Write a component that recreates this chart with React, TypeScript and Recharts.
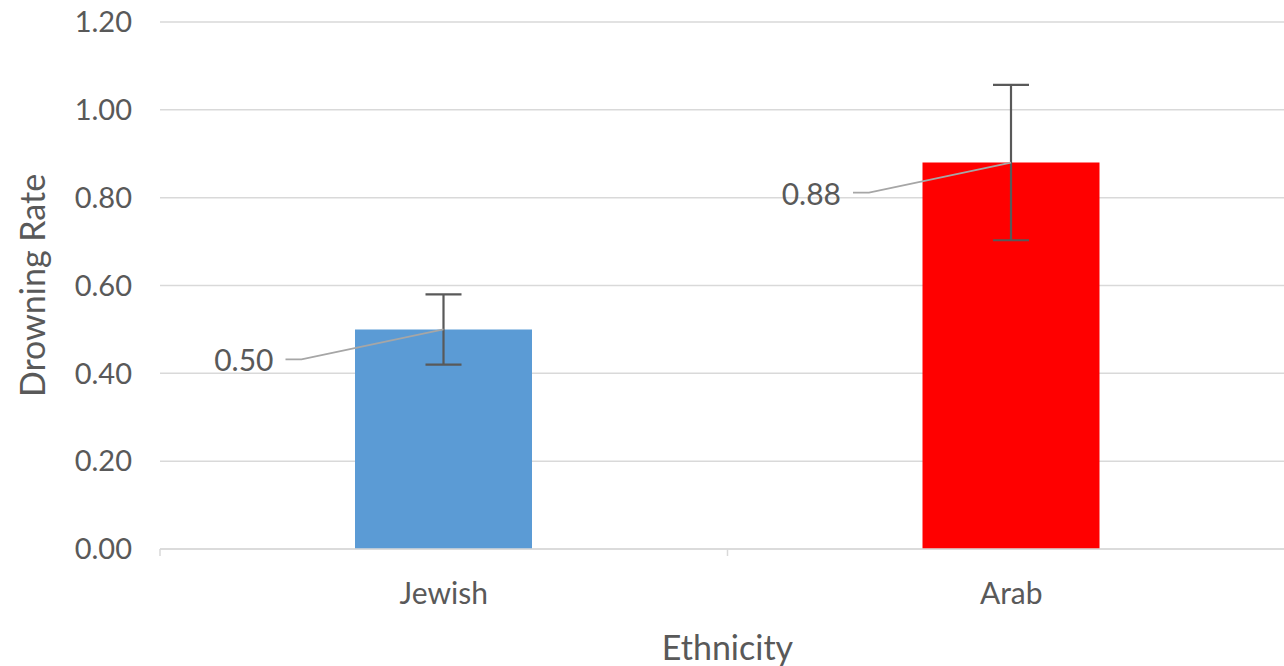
import React from 'react';
import { BarChart, Bar, XAxis, YAxis, CartesianGrid, ErrorBar, LabelList, Cell } from 'recharts';

const categories = ['Jewish', 'Arab'];
const rates = [0.5, 0.88];
const errors = [0.08, 0.177];
const colors = ['#5b9bd5', '#ff0000'];
const yTicks = [0, 0.2, 0.4, 0.6, 0.8, 1.0, 1.2];

const data = categories.map((c, i) => ({ name: c, rate: rates[i], err: errors[i] }));

const FONT = 'Lato, "Open Sans", sans-serif';
const TEXT = '#595959';
const GRID = '#d9d9d9';

const W = 1296;
const H = 666;
const M = { top: 22, right: 1, left: 0, bottom: 0 };
const YW = 160;
const XH = 117;
const halfBand = (W - M.left - M.right - YW) / categories.length / 2;

const XTick = (props: any) => {
  const { x, y, payload, index } = props;
  return (
    <g>
      <line x1={x - halfBand} y1={y} x2={x - halfBand} y2={y + 7} stroke={GRID} strokeWidth={1.5} />
      {index === categories.length - 1 && (
        <line x1={x + halfBand} y1={y} x2={x + halfBand} y2={y + 7} stroke={GRID} strokeWidth={1.5} />
      )}
      <text x={x} y={y + 43} textAnchor="middle" dominantBaseline="central" fill={TEXT} fontSize={30} fontFamily={FONT}>
        {payload.value}
      </text>
    </g>
  );
};

const LeaderLabel = (props: any) => {
  const { x, y, width, value } = props;
  const cx = x + width / 2;
  const ty = y + 30;
  const tx = cx - 170;
  return (
    <g>
      <polyline
        points={`${tx + 12},${ty} ${tx + 28},${ty} ${cx},${y}`}
        fill="none"
        stroke="#a6a6a6"
        strokeWidth={1.8}
      />
      <text x={tx} y={ty} textAnchor="end" dominantBaseline="central" fill={TEXT} fontSize={30} fontFamily={FONT}>
        {Number(value).toFixed(2)}
      </text>
    </g>
  );
};

const YTitle = (props: any) => {
  const vb = props.viewBox || { x: 0, y: M.top, width: YW, height: H - M.top - XH };
  const cx = vb.x + 31;
  const cy = vb.y + vb.height / 2;
  return (
    <text
      x={cx}
      y={cy}
      transform={`rotate(-90, ${cx}, ${cy})`}
      textAnchor="middle"
      dominantBaseline="central"
      fill={TEXT}
      fontSize={34}
      fontFamily={FONT}
    >
      Drowning Rate
    </text>
  );
};

const XTitle = () => {
  const cx = M.left + YW + categories.length * halfBand;
  return (
    <text x={cx} y={646} textAnchor="middle" dominantBaseline="central" fill={TEXT} fontSize={34} fontFamily={FONT}>
      Ethnicity
    </text>
  );
};

export default function App() {
  return (
    <div style={{ position: 'fixed', top: 0, left: 0, width: 1284, height: 666, overflow: 'hidden', background: '#fff' }}>
      <BarChart width={W} height={H} data={data} margin={M}>
        <CartesianGrid vertical={false} stroke={GRID} strokeWidth={1.5} />
        <XAxis
          dataKey="name"
          height={XH}
          axisLine={{ stroke: GRID, strokeWidth: 1.5 }}
          tickLine={false}
          tickSize={0}
          tickMargin={0}
          tick={<XTick />}
          interval={0}
          label={<XTitle />}
        />
        <YAxis
          width={YW}
          domain={[0, 1.2]}
          ticks={yTicks}
          axisLine={false}
          tickLine={false}
          tickSize={0}
          tickMargin={28}
          tickFormatter={(v: number) => v.toFixed(2)}
          tick={{ fill: TEXT, fontSize: 29, fontFamily: FONT }}
          label={<YTitle />}
        />
        <Bar dataKey="rate" barSize={177} isAnimationActive={false}>
          {data.map((d, i) => (
            <Cell key={d.name} fill={colors[i]} />
          ))}
          <ErrorBar dataKey="err" width={18} stroke="#595959" strokeWidth={2.2} direction="y" />
          <LabelList dataKey="rate" content={<LeaderLabel />} />
        </Bar>
      </BarChart>
    </div>
  );
}
